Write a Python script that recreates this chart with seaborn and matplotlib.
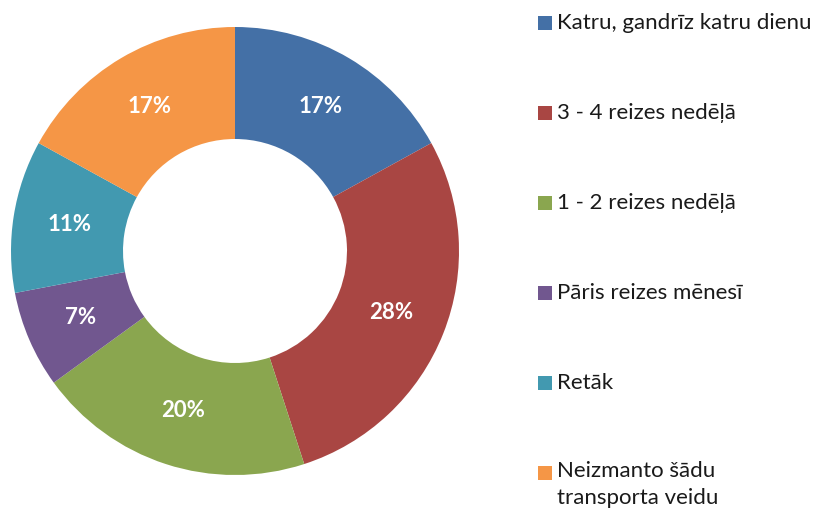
import matplotlib
matplotlib.use("Agg")
import matplotlib.pyplot as plt
import matplotlib.patches as mpatches
import seaborn as sns

categories = [
    "Katru, gandrīz katru dienu",
    "3 - 4 reizes nedēļā",
    "1 - 2 reizes nedēļā",
    "Pāris reizes mēnesī",
    "Retāk",
    "Neizmanto šādu\ntransporta veidu",
]
shares = [17, 28, 20, 7, 11, 17]
colors = ["#4470A6", "#A94643", "#8AA64F", "#71578F", "#4299B0", "#F59646"]

sns.set_theme(style="white")
plt.rcParams['font.family'] = ['Lato', 'DejaVu Sans']

palette = sns.color_palette(colors)

fig = plt.figure(figsize=(8.22, 5.12), dpi=100)
ax = fig.add_axes([11 / 822, 37 / 512, 448 / 822, 448 / 512])

wedges, texts, autotexts = ax.pie(
    shares,
    colors=palette,
    startangle=90,
    counterclock=False,
    radius=1.0,
    autopct=lambda p: f"{p:.0f}%",
    pctdistance=0.75,
    wedgeprops=dict(width=0.5, linewidth=0),
    textprops=dict(color="white", fontsize=16, fontweight="bold"),
)
ax.set_xlim(-1, 1)
ax.set_ylim(-1, 1)
ax.set_aspect("equal")

# legend drawn by hand so the row spacing matches the original
row_top = 23
row_step = 90
for i, (label, color) in enumerate(zip(categories, palette)):
    y = 1 - (row_top + i * row_step) / 512
    fig.add_artist(mpatches.Rectangle(
        (538 / 822, y - 7 / 512), 14 / 822, 14 / 512,
        transform=fig.transFigure, facecolor=color, edgecolor="none"))
    if "\n" in label:
        fig.text(557 / 822, y + 12 / 512, label, fontsize=16, color="#1a1a1a",
                 va="top", ha="left", linespacing=1.45)
    else:
        fig.text(557 / 822, y, label, fontsize=16, color="#1a1a1a",
                 va="center", ha="left")

fig.savefig("out.png", dpi=100, facecolor="white")
